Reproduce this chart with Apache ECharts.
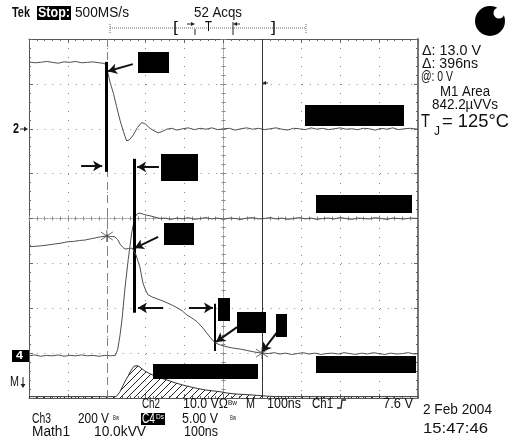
<!DOCTYPE html>
<html><head><meta charset="utf-8">
<script src="https://cdn.jsdelivr.net/npm/echarts@6/dist/echarts.min.js"></script>
<style>html,body{margin:0;padding:0;background:#fff}#c{width:509px;height:442px}</style>
</head><body><div id="c"></div><script>
// Scope screen: time in ns relative to screen centre (100 ns/div), vertical in divisions from centre
const timeAxis = {min: -500, max: 500, interval: 100};
const divAxis = {min: -4, max: 4, interval: 1};

// Ch2 trace (top)
const ch2Trace = [[-500,3.49],[-485,3.47],[-470,3.48],[-455,3.50],[-440,3.48],[-425,3.46],[-410,3.49],[-395,3.48],[-380,3.50],[-365,3.47],[-350,3.48],[-335,3.49],[-320,3.47],[-310,3.46],[-303,3.44],[-298,3.27],[-291,3.02],[-283,2.79],[-275,2.50],[-266,2.19],[-257,1.93],[-249,1.73],[-241,1.76],[-232,1.86],[-221,2.03],[-210,2.14],[-200,2.10],[-189,2.01],[-178,1.95],[-168,1.91],[-157,1.94],[-146,1.99],[-133,2.01],[-120,1.97],[-105,2.00],[-90,2.02],[-75,1.98],[-60,2.01],[-45,1.99],[-30,2.02],[-15,1.98],[0,2.00],[15,2.01],[30,1.97],[45,2.00],[60,2.02],[75,1.99],[90,2.01],[105,1.98],[120,2.00],[135,2.02],[150,1.99],[165,1.97],[180,2.01],[195,2.00],[210,1.98],[225,2.02],[240,1.99],[255,2.01],[270,1.98],[285,2.00],[300,2.02],[315,1.99],[330,2.00],[345,1.98],[360,2.01],[375,2.00],[390,1.97],[405,2.01],[420,1.99],[435,2.02],[450,1.98],[465,2.00],[480,2.01],[500,1.99]];

// C4 trace (current)
const ch4Trace = [[-500,-3.06],[-485,-3.04],[-470,-3.07],[-455,-3.05],[-440,-3.06],[-425,-3.04],[-410,-3.07],[-395,-3.05],[-380,-3.06],[-365,-3.04],[-350,-3.06],[-335,-3.05],[-320,-3.07],[-305,-3.05],[-290,-3.06],[-278,-3.05],[-272,-2.92],[-266,-2.60],[-261,-2.26],[-253,-1.53],[-245,-0.92],[-236,-0.32],[-228,0.03],[-221,0.11],[-215,0.12],[-208,0.10],[-200,0.08],[-189,0.06],[-176,0.03],[-163,0.00],[-150,0.01],[-135,-0.02],[-120,0.01],[-105,-0.01],[-90,0.02],[-75,-0.02],[-60,0.00],[-45,0.02],[-30,-0.01],[-15,0.01],[0,-0.02],[15,0.01],[30,0.00],[45,-0.02],[60,0.01],[75,0.02],[90,-0.01],[105,0.00],[120,0.02],[135,-0.01],[150,0.01],[165,-0.02],[180,0.00],[195,0.02],[210,-0.01],[225,0.01],[240,-0.02],[255,0.00],[270,0.01],[285,-0.01],[300,0.02],[315,0.00],[330,-0.02],[345,0.01],[360,0.00],[375,-0.01],[390,0.02],[405,0.00],[420,-0.02],[435,0.01],[450,0.00],[465,-0.01],[480,0.01],[500,0.00]];

// Ch3 trace (voltage)
const ch3Trace = [[-500,-0.63],[-485,-0.62],[-470,-0.61],[-451,-0.59],[-435,-0.57],[-418,-0.55],[-402,-0.52],[-385,-0.51],[-370,-0.49],[-356,-0.48],[-340,-0.45],[-328,-0.43],[-317,-0.41],[-300,-0.39],[-290,-0.40],[-279,-0.41],[-272,-0.47],[-266,-0.57],[-259,-0.64],[-253,-0.68],[-244,-0.67],[-235,-0.66],[-230,-0.70],[-225,-0.81],[-215,-1.08],[-207,-1.44],[-200,-1.60],[-194,-1.70],[-183,-1.75],[-171,-1.79],[-158,-1.83],[-145,-1.88],[-132,-1.93],[-119,-1.99],[-106,-2.06],[-94,-2.15],[-81,-2.22],[-68,-2.30],[-53,-2.44],[-44,-2.54],[-35,-2.64],[-22,-2.77],[-8,-2.82],[9,-2.86],[26,-2.89],[43,-2.91],[60,-2.94],[76,-2.97],[99,-3.00],[115,-3.01],[130,-2.99],[145,-3.02],[160,-3.00],[175,-3.03],[190,-3.01],[205,-2.99],[220,-3.02],[235,-3.00],[250,-3.03],[265,-3.01],[280,-3.00],[295,-3.02],[310,-2.99],[325,-3.01],[340,-3.03],[355,-3.00],[370,-3.02],[385,-2.99],[400,-3.01],[415,-3.03],[430,-3.00],[445,-3.02],[460,-3.01],[475,-2.99],[490,-3.02],[500,-3.01]];

// Math1 trace (power, hatched area)
const mathTrace = [[-500,-3.97],[-400,-3.97],[-300,-3.97],[-276,-3.97],[-271,-3.94],[-266,-3.86],[-261,-3.77],[-256,-3.68],[-250,-3.58],[-245,-3.51],[-240,-3.42],[-235,-3.35],[-230,-3.29],[-225,-3.26],[-220,-3.28],[-215,-3.31],[-208,-3.36],[-202,-3.40],[-189,-3.46],[-176,-3.51],[-163,-3.55],[-145,-3.60],[-125,-3.66],[-105,-3.71],[-86,-3.75],[-66,-3.79],[-47,-3.82],[-28,-3.84],[-9,-3.86],[10,-3.89],[30,-3.91],[49,-3.92],[68,-3.93],[84,-3.94],[99,-3.95],[115,-3.96],[133,-3.97],[200,-3.97],[300,-3.97],[400,-3.97],[500,-3.97]];

// cursors and cursor/trace crossing markers
const cursorTimes = [-300, 99];
const cursorMarks = [[-300,-0.39],[99,-3.00]];

// annotation arrows [from, to] and bars [top, bottom, width], in scope coordinates
const arrowLines = [
  [[-233,3.44],[-297,3.28]],
  [[-366,1.17],[-312,1.17]],
  [[-166,1.15],[-222,1.15]],
  [[-168,-0.41],[-228,-0.66]],
  [[-155,-1.99],[-220,-1.99]],
  [[-89,-1.99],[-27,-1.99]],
  [[35,-2.42],[-19,-2.75]],
  [[138,-2.53],[99,-2.97]]
];
const markerBars = [
  [[-302,3.49],[-302,1.04],3],
  [[-230,1.33],[-230,-2.10],3],
  [[-22,-1.90],[-22,-2.95],2]
];

const GRID = {left: 29, top: 39, width: 389, height: 359};
const TRACE = '#505050';
const FONT = '"Liberation Sans", Arial, sans-serif';

const mctx = document.createElement('canvas').getContext('2d');
function txt(s, x0, x1, yc, size, o) {
  o = o || {};
  const font = (o.bold ? 'bold ' : '') + size + 'px ' + FONT;
  mctx.font = font;
  const w = mctx.measureText(s).width;
  const sx = x1 ? (x1 - x0) / w : 1;
  return {type: 'text', x: x0, y: yc, scaleX: sx, scaleY: o.sy || 1.1, silent: true, z: 120,
    style: {text: s, font: font, fill: o.fill || '#111', align: 'left', verticalAlign: 'middle',
      textAlign: 'left', textVerticalAlign: 'middle'}};
}
function box(x, y, w, h, fill) {
  return {type: 'rect', silent: true, z: 110, shape: {x: x, y: y, width: w, height: h}, style: {fill: fill || '#000'}};
}
function seg(pts, o) {
  o = o || {};
  return {type: 'polyline', silent: true, z: 115, shape: {points: pts},
    style: {stroke: o.stroke || '#222', lineWidth: o.w || 1, lineDash: o.dash || null, fill: null}};
}
function tri(pts) {
  return {type: 'polygon', silent: true, z: 115, shape: {points: pts}, style: {fill: '#222'}};
}

// hatch pattern
const pc = document.createElement('canvas'); pc.width = 7; pc.height = 7;
const pg = pc.getContext('2d');
pg.strokeStyle = '#222'; pg.lineWidth = 1;
pg.beginPath(); pg.moveTo(-1, 8); pg.lineTo(8, -1); pg.stroke();

function borderX(pos) {
  return {type: 'value', min: timeAxis.min, max: timeAxis.max, interval: timeAxis.interval, position: pos,
    axisLine: {show: true, onZero: false, lineStyle: {color: '#555', width: 1}},
    axisTick: {show: true, inside: true, length: 4, lineStyle: {color: '#666'}},
    minorTick: {show: true, splitNumber: 5, length: 2, lineStyle: {color: '#666'}},
    axisLabel: {show: false},
    splitLine: {show: pos === 'bottom', lineStyle: {color: '#8a8a8a', width: 1, type: [1, 8]}}};
}
function borderY(pos) {
  return {type: 'value', min: divAxis.min, max: divAxis.max, interval: divAxis.interval, position: pos,
    axisLine: {show: true, onZero: false, lineStyle: {color: pos === 'right' ? '#777' : '#555', width: pos === 'right' ? 2 : 1}},
    axisTick: {show: true, inside: true, length: 4, lineStyle: {color: '#666'}},
    minorTick: {show: true, splitNumber: 5, length: 2, lineStyle: {color: '#666'}},
    axisLabel: {show: false},
    splitLine: {show: pos === 'left', lineStyle: {color: '#8a8a8a', width: 1, type: [1, 6.8]}}};
}
function centreX(pos) {
  return {type: 'value', min: timeAxis.min, max: timeAxis.max, interval: timeAxis.interval, position: pos,
    axisLine: {show: true, onZero: true, onZeroAxisIndex: 0, lineStyle: {color: '#999', width: 1, type: [1, 2]}},
    axisTick: {show: true, inside: false, length: 3, lineStyle: {color: '#888'}},
    minorTick: {show: true, splitNumber: 5, length: 2, lineStyle: {color: '#888'}},
    axisLabel: {show: false}, splitLine: {show: false}};
}
function centreY(pos) {
  return {type: 'value', min: divAxis.min, max: divAxis.max, interval: divAxis.interval, position: pos,
    axisLine: {show: true, onZero: true, onZeroAxisIndex: 0, lineStyle: {color: '#999', width: 1, type: [1, 2]}},
    axisTick: {show: true, inside: false, length: 3, lineStyle: {color: '#888'}},
    minorTick: {show: true, splitNumber: 5, length: 2, lineStyle: {color: '#888'}},
    axisLabel: {show: false}, splitLine: {show: false}};
}

const cursorData = [
  {xAxis: cursorTimes[0], lineStyle: {color: '#808080', type: [8, 5], width: 1}},
  {xAxis: cursorTimes[1], lineStyle: {color: '#333', type: 'solid', width: 1}}
];
const annoData = [];
arrowLines.forEach(function (a) {
  annoData.push([{coord: a[0], symbol: 'none', lineStyle: {color: '#111', width: 2, type: 'solid'}},
                 {coord: a[1], symbol: 'arrow', symbolSize: [8, 9]}]);
});
markerBars.forEach(function (b) {
  annoData.push([{coord: b[0], symbol: 'none', lineStyle: {color: '#000', width: b[2], type: 'solid'}},
                 {coord: b[1], symbol: 'none'}]);
});

const graphics = [
  // annotation boxes
  box(138, 52, 31, 21), box(161, 154, 37, 27), box(164, 223, 30, 22), box(218, 298, 12, 23),
  box(237, 312, 29, 21), box(276, 314, 11, 23), box(305, 105, 99, 21), box(316, 195, 96, 18),
  box(316, 356, 100, 17), box(153, 364, 105, 15),
  // header
  txt('Tek', 12, 30, 13, 14, {bold: true}),
  box(37, 6, 34, 14),
  txt('Stop:', 38, 70, 13, 13, {bold: true, fill: '#fff'}),
  txt('500MS/s', 75, 129, 13, 14),
  txt('52 Acqs', 194, 242, 13, 14),
  // record indicator
  seg([[110, 28], [306, 28]], {dash: [1, 1], stroke: '#666'}),
  seg([[110, 24], [110, 33]], {dash: [1, 1], stroke: '#666'}),
  seg([[306, 24], [306, 33]], {dash: [1, 1], stroke: '#666'}),
  txt('[', 173, 178, 28, 14), txt(']', 271, 276, 28, 14),
  txt('T', 205, 212, 27, 13),
  seg([[187, 24], [192, 24]]), tri([[191, 22], [195, 24], [191, 26]]),
  seg([[195, 29], [195, 35]]),
  seg([[240, 24], [236, 24]]), tri([[237, 22], [233, 24], [237, 26]]),
  seg([[233, 22], [233, 35]]),
  // acquisition ball
  {type: 'circle', silent: true, z: 110, shape: {cx: 490, cy: 21, r: 15}, style: {fill: '#000'}},
  {type: 'circle', silent: true, z: 111, shape: {cx: 499, cy: 13, r: 5.5}, style: {fill: '#fff'}},
  // right readouts
  txt('\u0394: 13.0 V', 422, 481, 51, 14),
  txt('\u0394: 396ns', 422, 478, 64, 14),
  txt('@: 0 V', 421, 453, 77, 14),
  txt('M1 Area', 440, 490, 92, 14),
  txt('842.2\u00b5VVs', 432, 498, 105, 14),
  txt('T', 421, 430, 122, 17, {sy: 1.05}),
  txt('J', 434, 440, 132, 12, {sy: 1.05}),
  txt('= 125\u00b0C', 442, 509, 122, 17, {sy: 1.05}),
  // left markers
  txt('2', 13, 19, 129, 13, {bold: true}),
  seg([[20, 129], [25, 129]]), tri([[24, 126.5], [28, 129], [24, 131.5]]),
  box(12, 350, 17, 12),
  txt('4', 16, 23, 356, 10, {bold: true, fill: '#fff'}),
  txt('M', 10, 19, 382, 13),
  seg([[23, 377], [23, 385]]), tri([[20.5, 384], [23, 388], [25.5, 384]]),
  seg([[268, 83], [265, 83]]), tri([[266, 81], [262, 83], [266, 85]]),
  // bottom readouts
  txt('Ch2', 142, 160, 404, 13),
  txt('10.0 V\u03a9', 183, 228, 404, 13),
  txt('Bw', 228, 237, 403, 7),
  txt('M', 246, 255, 404, 13),
  txt('100ns', 267, 301, 404, 13),
  txt('Ch1', 312, 333, 404, 13),
  seg([[337, 408], [341, 408], [342, 400], [346, 400]], {w: 1.3}),
  txt('7.6 V', 383, 413, 404, 13),
  txt('Ch3', 32, 51, 419.5, 13),
  txt('200 V', 78, 109, 419.5, 13),
  txt('Bw', 113, 119, 418, 6),
  box(141, 413, 24, 12),
  txt('C4', 142, 155, 419.5, 13, {fill: '#fff'}),
  txt('Ds', 156, 164, 417, 6, {fill: '#fff'}),
  txt('5.00 V', 182, 218, 419.5, 13),
  txt('Bw', 230, 236, 418, 6),
  txt('Math1', 32, 70, 432.5, 13),
  txt('10.0kVV', 94, 146, 432.5, 13),
  txt('100ns', 184, 218, 432.5, 13),
  txt('2 Feb 2004', 423, 492, 410.5, 13),
  txt('15:47:46', 423, 488, 428.5, 14)
];

const chart = echarts.init(document.getElementById('c'), null, {renderer: 'canvas'});
chart.setOption({
  animation: false,
  backgroundColor: '#fff',
  grid: GRID,
  xAxis: [borderX('bottom'), borderX('top'), centreX('bottom'), centreX('top')],
  yAxis: [borderY('left'), borderY('right'), centreY('left'), centreY('right')],
  series: [
    {type: 'line', data: mathTrace, showSymbol: false, lineStyle: {color: '#333', width: 1},
      areaStyle: {color: {image: pc, repeat: 'repeat'}, opacity: 1, origin: 'start'}, z: 3,
      markLine: {silent: true, symbol: ['none', 'none'], label: {show: false}, animation: false, data: cursorData}},
    {type: 'line', data: ch2Trace, showSymbol: false, lineStyle: {color: TRACE, width: 1}, z: 4},
    {type: 'line', data: ch4Trace, showSymbol: false, lineStyle: {color: TRACE, width: 1}, z: 4},
    {type: 'line', data: ch3Trace, showSymbol: false, lineStyle: {color: TRACE, width: 1}, z: 5,
      markLine: {silent: true, symbol: ['none', 'none'], label: {show: false}, animation: false, data: annoData}},
    {type: 'scatter', data: cursorMarks, symbol: 'path://M6,0L6,12M0,2L12,10M0,10L12,2', symbolSize: 12,
      itemStyle: {color: 'rgba(0,0,0,0)', borderColor: '#444', borderWidth: 1}, z: 6}
  ],
  graphic: graphics
});
</script></body></html>
